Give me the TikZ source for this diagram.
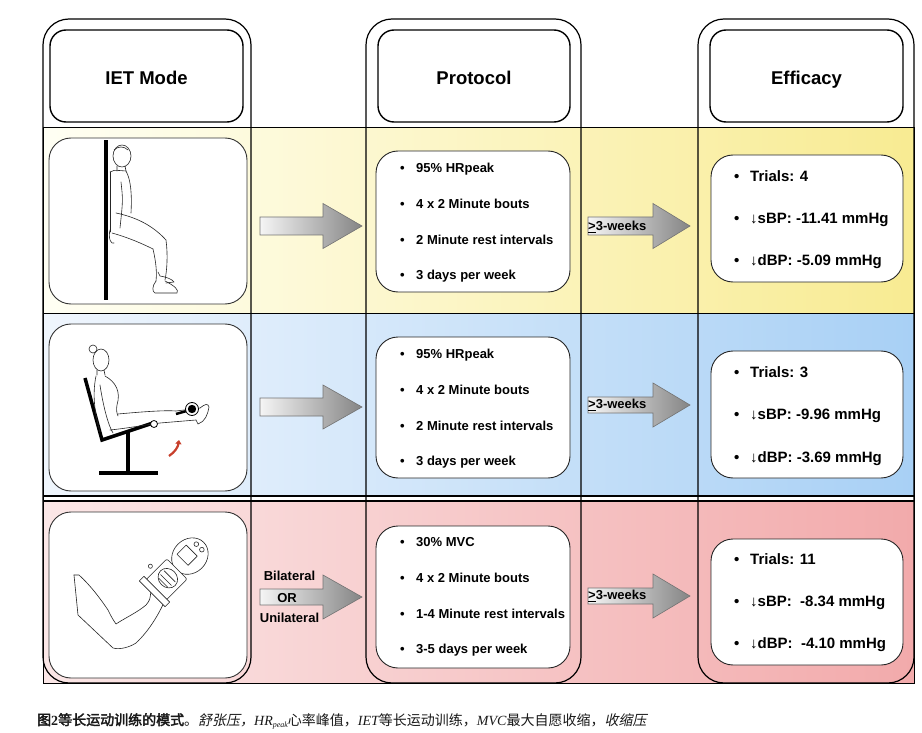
\documentclass[tikz,border=0pt]{standalone}
\usepackage{fontspec}
\setmainfont{Liberation Sans}
\newfontfamily\cjk[AutoFakeBold=2.5,AutoFakeSlant=0.2]{Noto Sans CJK SC}
\newfontfamily\capserif{Liberation Serif}
\usetikzlibrary{arrows.meta}
\definecolor{yelL}{HTML}{FFFFF4}
\definecolor{yelR}{HTML}{F8EB92}
\definecolor{bluL}{HTML}{F0F6FD}
\definecolor{bluR}{HTML}{A8D0F5}
\definecolor{pnkL}{HTML}{FBE7E7}
\definecolor{pnkR}{HTML}{F2AAAB}
\definecolor{redarr}{HTML}{C8402C}
\newcommand{\blockarrow}[6]{%
  \shade[blk] (#1,#4-#5) -- (#2,#4-#5) -- (#2,#4-#6) -- (#3,#4) -- (#2,#4+#6) -- (#2,#4+#5) -- (#1,#4+#5) -- cycle;}
\begin{document}
\begin{tikzpicture}[x=1pt,y=-1pt,
  hdr/.style={draw=black, line width=1.4pt, rounded corners=16pt, fill=white, inner sep=0pt},
  col/.style={draw=black, line width=1.2pt, rounded corners=26pt, inner sep=0pt},
  picbox/.style={draw=black!80, line width=0.9pt, rounded corners=22pt, fill=white, inner sep=0pt},
  card/.style={draw=black!85, line width=0.9pt, rounded corners=22pt, fill=white, inner sep=0pt},
  ptxt/.style={anchor=base west, font=\bfseries\fontsize{13}{15}\selectfont, inner sep=0pt},
  etxt/.style={anchor=base west, font=\bfseries\fontsize{15}{17}\selectfont, inner sep=0pt},
  htxt/.style={anchor=base, font=\bfseries\fontsize{18.5}{22}\selectfont, inner sep=0pt},
  atxt/.style={anchor=base, font=\bfseries\fontsize{13}{15}\selectfont, inner sep=0pt},
  wtxt/.style={anchor=base west, font=\bfseries\fontsize{13}{15}\selectfont, inner sep=0pt},
  blk/.style={draw=black!55, line width=0.6pt, left color=black!4, right color=black!48},
  figline/.style={draw=black!85, line width=0.6pt, line join=round, line cap=round},
  bar/.style={draw=black, line width=3.5pt},
]
\fill[white] (0,0) rectangle (922,733);
\useasboundingbox (0,0) rectangle (922,733);

% bands
\shade[left color=yelL, right color=yelR] (43,128) rectangle (914,313);
\shade[left color=bluL, right color=bluR] (43,313) rectangle (914,496);
\shade[left color=pnkL, right color=pnkR] (43,501) rectangle (914,683);
\draw[line width=1pt] (43,128) -- (914,128);
\draw[line width=1pt] (43,313) -- (914,313);
\draw[line width=1.2pt] (43,496) -- (914,496);
\draw[line width=1.2pt] (43,501) -- (914,501);
\draw[line width=1pt] (43,128) rectangle (914,683);

% columns
\node[col, minimum width=208pt, minimum height=664pt] (c1) at (147,351) {};
\node[col, minimum width=215pt, minimum height=664pt] (c2) at (473.5,351) {};
\node[col, minimum width=216pt, minimum height=664pt] (c3) at (806,351) {};

% headers
\node[hdr, minimum width=193pt, minimum height=92pt] (h1) at (146.5,76) {};
\node[hdr, minimum width=192pt, minimum height=92pt] (h2) at (474,76) {};
\node[hdr, minimum width=193pt, minimum height=92pt] (h3) at (806.5,76) {};
\node[htxt] (t1) at (146.5,85) {IET Mode};
\node[htxt] (t2) at (474,85) {Protocol};
\node[htxt] (t3) at (806.5,85) {Efficacy};

% picture boxes
\node[picbox, minimum width=198pt, minimum height=166pt] (p1) at (148,221) {};
\node[picbox, minimum width=198pt, minimum height=167pt] (p2) at (148,407.5) {};
\node[picbox, minimum width=198pt, minimum height=166pt] (p3) at (148,595) {};

% protocol cards
\node[card, minimum width=194pt, minimum height=141pt] (r1) at (473,221.5) {};
\node[card, minimum width=194pt, minimum height=141pt] (r2) at (473,407.5) {};
\node[card, minimum width=194pt, minimum height=142pt] (r3) at (473,597) {};

% efficacy cards
\node[card, minimum width=192pt, minimum height=127pt] (e1) at (807,218.5) {};
\node[card, minimum width=192pt, minimum height=127pt] (e2) at (807,414.5) {};
\node[card, minimum width=192pt, minimum height=126pt] (e3) at (807,602) {};

% protocol texts
\node[ptxt] (r1a) at (400,172.6) {\makebox[16pt][l]{•}95\% HRpeak};
\node[ptxt] (r1b) at (400,208.6) {\makebox[16pt][l]{•}4 x 2 Minute bouts};
\node[ptxt] (r1c) at (400,244.6) {\makebox[16pt][l]{•}2 Minute rest intervals};
\node[ptxt] (r1d) at (400,279.6) {\makebox[16pt][l]{•}3 days per week};
\node[ptxt] (r2a) at (400,358.6) {\makebox[16pt][l]{•}95\% HRpeak};
\node[ptxt] (r2b) at (400,394.6) {\makebox[16pt][l]{•}4 x 2 Minute bouts};
\node[ptxt] (r2c) at (400,430.6) {\makebox[16pt][l]{•}2 Minute rest intervals};
\node[ptxt] (r2d) at (400,465.6) {\makebox[16pt][l]{•}3 days per week};
\node[ptxt] (r3a) at (400,546.6) {\makebox[16pt][l]{•}30\% MVC};
\node[ptxt] (r3b) at (400,582.6) {\makebox[16pt][l]{•}4 x 2 Minute bouts};
\node[ptxt] (r3c) at (400,618.6) {\makebox[16pt][l]{•}1-4 Minute rest intervals};
\node[ptxt] (r3d) at (400,653.6) {\makebox[16pt][l]{•}3-5 days per week};

% efficacy texts
\node[etxt] (e1a) at (734,181.4) {\makebox[16pt][l]{•}Trials: 4};
\node[etxt] (e1b) at (734,223.4) {\makebox[16pt][l]{•}↓sBP: -11.41 mmHg};
\node[etxt] (e1c) at (734,265.4) {\makebox[16pt][l]{•}↓dBP: -5.09 mmHg};
\node[etxt] (e2a) at (734,377.4) {\makebox[16pt][l]{•}Trials: 3};
\node[etxt] (e2b) at (734,419.4) {\makebox[16pt][l]{•}↓sBP: -9.96 mmHg};
\node[etxt] (e2c) at (734,462.4) {\makebox[16pt][l]{•}↓dBP: -3.69 mmHg};
\node[etxt] (e3a) at (734,564.4) {\makebox[16pt][l]{•}Trials: 11};
\node[etxt] (e3b) at (734,606.4) {\makebox[16pt][l]{•}↓sBP:\ \ -8.34 mmHg};
\node[etxt] (e3c) at (734,648.4) {\makebox[16pt][l]{•}↓dBP:\ \ -4.10 mmHg};

% block arrows
\blockarrow{260}{323}{362}{226}{9}{22.5}
\blockarrow{588}{653}{690}{226}{9}{22.5}
\blockarrow{260}{323}{362}{407}{9}{22}
\blockarrow{588}{653}{690}{405}{8}{22}
\blockarrow{260}{323}{362}{597}{8}{22}
\blockarrow{588}{653}{690}{596}{8}{22}
\node[wtxt] (w1) at (588,230.6) {\underline{>}3-weeks};
\node[wtxt] (w2) at (588,408.6) {\underline{>}3-weeks};
\node[wtxt] (w3) at (588,599.6) {\underline{>}3-weeks};
\node[atxt] (bi) at (289.5,580.6) {Bilateral};
\node[atxt] (or) at (287,602.6) {OR};
\node[atxt] (un) at (289.5,622.6) {Unilateral};

% ---- figure 1: wall sit
\fill[black] (104,140) rectangle (108,300);
\draw[figline] (122,156) ellipse [x radius=9, y radius=11];
\draw[figline] (114,150) .. controls (118,146) and (124,146) .. (128,150);
\draw[figline] (117,166) -- (117,171) (125,166) -- (126,171);
\draw[figline] (110,172) .. controls (113,170) .. (126,171) .. controls (131,180) and (132,195) .. (131,213);
\draw[figline] (110,172) -- (110,232);
\draw[figline] (121,182) .. controls (123,200) .. (120,228);
\draw[figline] (110,230) .. controls (108,238) and (111,245) .. (114,243);
\draw[figline] (116,213) .. controls (140,218) and (155,228) .. (166,240);
\draw[figline] (112,233) .. controls (130,238) and (145,245) .. (153,249);
\draw[figline] (166,240) .. controls (168,255) and (167,270) .. (165,280);
\draw[figline] (153,249) .. controls (156,262) and (157,272) .. (156,281);
\draw[figline] (158,272) -- (160,276) .. controls (166,277) and (172,279) .. (174,282) -- (166,283);
\draw[figline] (156,281) .. controls (152,286) and (152,292) .. (155,293) -- (177,293) .. controls (179,290) and (175,286) .. (165,281);

% ---- figure 2: leg extension
\draw[figline] (93,349) circle (4);
\draw[figline] (101,360) ellipse [x radius=8, y radius=11];
\draw[figline] (97,370) -- (97,375) (104,370) -- (105,375);
\draw[bar] (85,378) -- (102,440) -- (153,423);
\draw[bar] (128,432) -- (128,473);
\draw[bar] (99,473) -- (158,473);
\draw[figline] (96,376) .. controls (92,395) and (95,415) .. (100,432);
\draw[figline] (105,376) .. controls (116,382) and (121,392) .. (117,405) .. controls (116,410) and (117,414) .. (118,416);
\draw[figline] (100,385) .. controls (103,405) and (108,425) .. (113,433);
\draw[figline] (118,414) .. controls (140,412) and (165,410) .. (176,411) -- (200,408);
\draw[figline] (110,430) .. controls (130,428) and (150,424) .. (160,423) -- (196,420);
\draw[figline] (200,408) .. controls (205,404) and (208,403) .. (209,407) .. controls (208,414) and (205,422) .. (198,424) -- (196,420);
\draw[line width=2.5pt] (176,414) -- (190,410);
\draw[black, fill=white, line width=0.8pt] (192,409) circle (6.5);
\fill[black] (192,409) circle (4.2);
\draw[black, fill=white, line width=0.8pt] (154,424) circle (3.5);
\draw[line width=2.2pt, draw=redarr, -{Triangle[length=4pt,width=6pt]}] (169,456) .. controls (175,452) and (178,447) .. (179,440);

% ---- figure 3: handgrip
\draw[figline] (74,575) -- (79,575) .. controls (90,585) and (100,598) .. (108,610) .. controls (112,618) .. (116,624) .. controls (125,618) and (138,612) .. (146,605) .. controls (150,600) .. (151,590);
\draw[figline] (74,575) -- (78,615) -- (113,648) .. controls (120,650) and (130,647) .. (136,643) .. controls (150,630) and (160,612) .. (166,598);
\begin{scope}[shift={(166,580)}, rotate=-45, scale=1.3]
  \draw[figline, fill=white] (0,-26) ellipse [x radius=13, y radius=15];
  \draw[figline] (-8,-30) rectangle (4,-20);
  \draw[figline] (-3,-36) circle (1.8) (3,-36) circle (1.8);
  \draw[figline, fill=white, rounded corners=2pt] (-11,-12) rectangle (11,11);
  \draw[figline] (0,-2) ellipse [x radius=8, y radius=7];
  \draw[figline] (-6,-4) -- (6,-4) (-6,0) -- (6,0) (-5,3) -- (5,3);
  \draw[figline, fill=white] (-14,10) rectangle (14,15);
  \draw[figline] (-16,1) circle (1.6);
\end{scope}

% caption
\node[anchor=base west, inner sep=0pt, font=\fontsize{14}{16}\selectfont, text=black!90] (cap) at (37,725)
  {{\cjk\bfseries 图}{\capserif\bfseries 2}{\cjk\bfseries 等长运动训练的模式}{\cjk 。}{\cjk\itshape 舒张压，}{\capserif\itshape HR}\raisebox{-2.5pt}{\fontsize{8}{8}\selectfont\capserif\itshape peak}{\cjk 心率峰值，}{\capserif\itshape IET}{\cjk 等长运动训练，}{\capserif\itshape MVC}{\cjk 最大自愿收缩，}{\cjk\itshape 收缩压}};
\end{tikzpicture}
\end{document}
